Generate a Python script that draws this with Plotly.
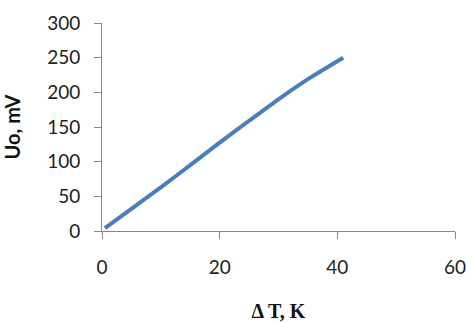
import plotly.graph_objects as go

delta_t = [0.5, 5, 10, 15, 20, 25, 30, 35, 41]
uo_mv = [4, 32, 63, 95, 127.5, 159, 190, 219, 250]

x_ticks = [0, 20, 40, 60]
y_ticks = [0, 50, 100, 150, 200, 250, 300]

fig = go.Figure()
fig.add_trace(go.Scatter(
    x=delta_t, y=uo_mv, mode="lines",
    line=dict(color="#4a7ebb", width=4, shape="spline", smoothing=0.8),
    showlegend=False,
))

axis_common = dict(
    showgrid=False, zeroline=False, showline=True, automargin=False,
    linecolor="#868686", linewidth=1,
    ticks="outside", ticklen=7, tickcolor="#868686", tickwidth=1,
    ticklabeloverflow="allow",
    tickfont=dict(family="Lato, Liberation Sans, sans-serif", size=19, color="#222222"),
)

fig.update_layout(
    width=466, height=322,
    margin=dict(l=102, r=11, t=23, b=91),
    paper_bgcolor="white", plot_bgcolor="white",
    xaxis=dict(
        range=[0, 60], tickvals=x_ticks, ticklabelstandoff=12,
        title=dict(text="<b>Δ T, K</b>", font=dict(family="Liberation Serif, Times New Roman, serif", size=20, color="#111111"), standoff=30),
        **axis_common,
    ),
    yaxis=dict(
        range=[0, 300], tickvals=y_ticks, ticklabelstandoff=10,
        title=dict(text="<b>Uo, mV</b>", font=dict(family="Lato, Liberation Sans, sans-serif", size=20, color="#111111"), standoff=24),
        **axis_common,
    ),
)

fig.write_html(
    "out.html",
    config={"displayModeBar": False},
    post_script="document.body.style.margin='0';document.body.style.overflow='hidden';",
)
